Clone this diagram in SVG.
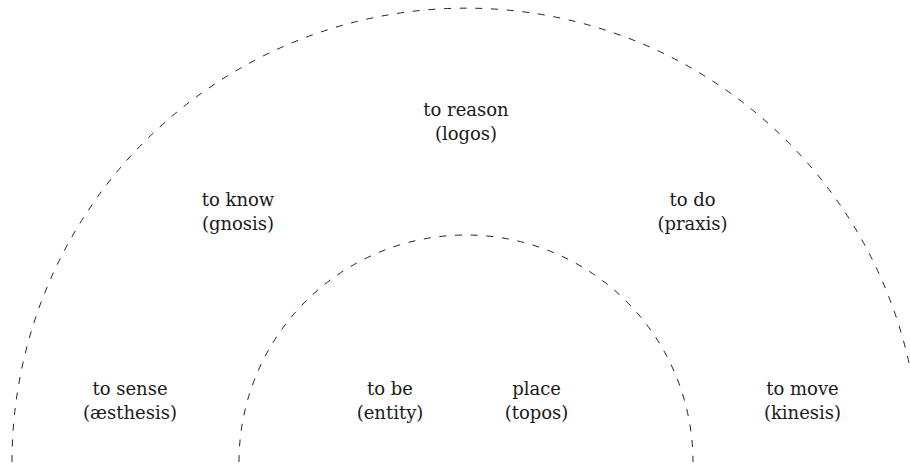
<svg xmlns="http://www.w3.org/2000/svg" width="910" height="464" viewBox="0 0 910 464">
<style>
.arc{fill:none;stroke:#222;stroke-width:1;stroke-dasharray:7 8.7}
text{font-family:"DejaVu Serif","Liberation Serif",serif;font-size:18px;fill:#1a1a1a;text-anchor:middle}
</style>
<rect width="910" height="464" fill="#fff"/>
<g id="connectors">
<path class="arc" d="M12,462 A454,454 0 0 1 920,462"/>
<path class="arc" d="M239,462 A227,227 0 0 1 693,462"/>
</g>
<g id="reason"><text x="466" y="116">to reason</text><text x="466" y="140">(logos)</text></g>
<g id="know"><text x="238" y="206">to know</text><text x="238" y="230">(gnosis)</text></g>
<g id="do"><text x="692.5" y="206">to do</text><text x="692.5" y="230">(praxis)</text></g>
<g id="sense"><text x="130" y="395">to sense</text><text x="130" y="419">(æsthesis)</text></g>
<g id="be"><text x="390" y="395">to be</text><text x="390" y="419">(entity)</text></g>
<g id="place"><text x="536.5" y="395">place</text><text x="536.5" y="419">(topos)</text></g>
<g id="move"><text x="802.5" y="395">to move</text><text x="802.5" y="419">(kinesis)</text></g>
</svg>
